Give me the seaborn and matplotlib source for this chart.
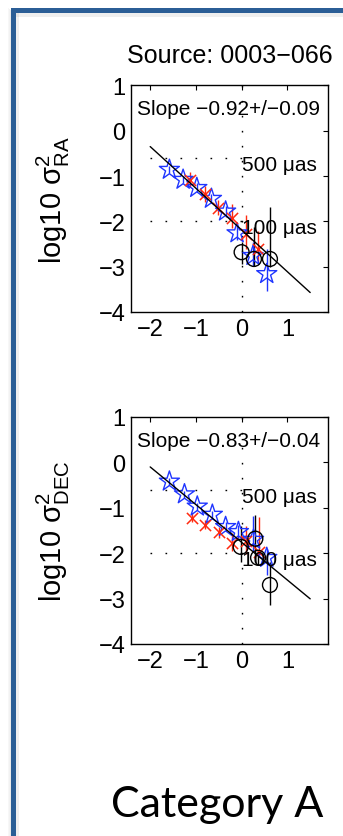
import numpy as np
import matplotlib
matplotlib.use("Agg")
import matplotlib.pyplot as plt
import seaborn as sns
from matplotlib.patches import Rectangle

# ---------------- data ----------------
title_text = "Source: 0003\u2212066"
category_text = "Category A"
x_ticks = [-2, -1, 0, 1]
y_ticks = [-4, -3, -2, -1, 0, 1]
ref_levels = [-0.6, -2.0]
ref_labels = ["500 \u03bcas", "100 \u03bcas"]
fit_x = [-2.0, 1.5]

# RA panel
ra_blue_x = [-1.58, -1.28, -0.98, -0.66, -0.35, -0.10, 0.25, 0.55]
ra_blue_y = [-0.86, -1.08, -1.26, -1.50, -1.78, -2.26, -2.76, -3.16]
ra_blue_lo = [-0.94, -1.16, -1.36, -1.60, -1.90, -2.42, -2.99, -3.53]
ra_blue_hi = [-0.78, -1.00, -1.16, -1.40, -1.66, -2.10, -2.46, -2.60]
ra_red_x = [-1.13, -0.80, -0.51, -0.20, 0.09, 0.35]
ra_red_y = [-1.08, -1.40, -1.70, -1.92, -2.28, -2.60]
ra_red_lo = [-1.25, -1.57, -1.87, -2.15, -2.62, -2.90]
ra_red_hi = [-0.91, -1.23, -1.53, -1.62, -1.85, -2.22]
ra_black_x = [0.00, 0.27, 0.62]
ra_black_y = [-2.68, -2.83, -2.83]
ra_black_lo = [-2.94, -2.98, -3.00]
ra_black_hi = [-2.46, -2.13, -1.69]
ra_slope, ra_intercept = -0.92, -2.19
ra_slope_text = "Slope \u22120.92+/\u22120.09"
ra_ylabel = r"log10 $\sigma^2_{RA}$"

# DEC panel
dec_blue_x = [-1.58, -1.25, -0.97, -0.64, -0.35, -0.07, 0.26, 0.55]
dec_blue_y = [-0.42, -0.70, -0.97, -1.15, -1.42, -1.53, -1.70, -2.10]
dec_blue_lo = [-0.50, -0.78, -1.05, -1.24, -1.52, -1.68, -1.97, -2.49]
dec_blue_hi = [-0.34, -0.62, -0.89, -1.06, -1.32, -1.38, -1.17, -1.90]
dec_red_x = [-1.09, -0.80, -0.49, -0.20, 0.10, 0.38]
dec_red_y = [-1.22, -1.37, -1.54, -1.78, -1.74, -1.97]
dec_red_lo = [-1.32, -1.47, -1.66, -1.95, -2.02, -2.05]
dec_red_hi = [-1.12, -1.27, -1.42, -1.55, -1.39, -1.20]
dec_black_x = [-0.02, 0.30, 0.36, 0.62]
dec_black_y = [-1.86, -1.68, -2.10, -2.70]
dec_black_lo = [-2.20, -2.20, -2.25, -3.14]
dec_black_hi = [-1.40, -1.15, -1.95, -2.19]
dec_slope, dec_intercept = -0.83, -1.76
dec_slope_text = "Slope \u22120.83+/\u22120.04"
dec_ylabel = r"log10 $\sigma^2_{DEC}$"

# ---------------- style ----------------
sns.set_style("white")
plt.rcParams["font.family"] = ["Liberation Sans", "DejaVu Sans"]
plt.rcParams["mathtext.default"] = "regular"
plt.rcParams["axes.unicode_minus"] = True
plt.rcParams["text.color"] = "black"
plt.rcParams["axes.labelcolor"] = "black"
plt.rcParams["xtick.color"] = "black"
plt.rcParams["ytick.color"] = "black"

BLUE = "#1f35ff"
RED = "#ff2a10"
BLACK = "black"

W, H = 343, 837
fig = plt.figure(figsize=(W / 100, H / 100), dpi=100)
fig.patch.set_facecolor("white")

def px_rect(l, t, r, b):
    return [l / W, 1 - b / H, (r - l) / W, (b - t) / H]

# slide frame with soft shadow
for i, a in enumerate([0.06, 0.10, 0.16]):
    fig.patches.append(Rectangle(((8 + i) / W, 0), 1 / W, 1 - (9 + i) / H,
                                 transform=fig.transFigure, color="gray", alpha=a, lw=0))
fig.patches.append(Rectangle((16 / W, 0), 3 / W, 1 - 14 / H, transform=fig.transFigure,
                             color="gray", alpha=0.12, lw=0))
fig.patches.append(Rectangle((16 / W, 1 - 18 / H), 1 - 16 / W, 4 / H, transform=fig.transFigure,
                             color="gray", alpha=0.12, lw=0))
fig.patches.append(Rectangle((11 / W, 0), 5 / W, 1 - 9 / H, transform=fig.transFigure,
                             color="#2b5e96", lw=0))
fig.patches.append(Rectangle((11 / W, 1 - 14 / H), 1 - 11 / W, 5 / H, transform=fig.transFigure,
                             color="#2b5e96", lw=0))

panels = [
    dict(rect=px_rect(131, 86.4, 328, 313),
         blue=(ra_blue_x, ra_blue_y, ra_blue_lo, ra_blue_hi),
         red=(ra_red_x, ra_red_y, ra_red_lo, ra_red_hi),
         black=(ra_black_x, ra_black_y, ra_black_lo, ra_black_hi),
         slope=ra_slope, intercept=ra_intercept, stext=ra_slope_text,
         ylabel=ra_ylabel, title=title_text),
    dict(rect=px_rect(131, 418, 328, 645),
         blue=(dec_blue_x, dec_blue_y, dec_blue_lo, dec_blue_hi),
         red=(dec_red_x, dec_red_y, dec_red_lo, dec_red_hi),
         black=(dec_black_x, dec_black_y, dec_black_lo, dec_black_hi),
         slope=dec_slope, intercept=dec_intercept, stext=dec_slope_text,
         ylabel=dec_ylabel, title=None),
]

dots = (0, (1.2, 9.6))

for p in panels:
    ax = fig.add_axes(p["rect"])
    ax.set_facecolor("white")
    ax.set_xlim(-2.42, 1.89)
    ax.set_ylim(-4, 1)

    # reference dotted lines
    ax.axvline(0, color="black", lw=1.0, ls=dots, zorder=1)
    for lev, lab in zip(ref_levels, ref_labels):
        ax.plot([-2, 0], [lev, lev], color="black", lw=1.0, ls=dots, zorder=1)
        ax.text(0.01, lev - 0.145, lab, fontsize=15, va="center", ha="left", zorder=6)

    # error bars
    for key, col in (("blue", BLUE), ("red", RED), ("black", BLACK)):
        x, y, lo, hi = (np.asarray(v) for v in p[key])
        ax.errorbar(x, y, yerr=[y - lo, hi - y], fmt="none", ecolor=col,
                    elinewidth=1.0, capsize=0, zorder=2)

    bx, by, _, _ = p["blue"]
    rx, ry, _, _ = p["red"]
    kx, ky, _, _ = p["black"]
    sns.scatterplot(x=bx, y=by, marker="*", s=230, facecolors="none",
                    edgecolor=BLUE, linewidth=1.0, ax=ax, zorder=3)
    sns.scatterplot(x=rx, y=ry, marker="x", s=65, color=RED,
                    linewidth=1.1, ax=ax, zorder=3)
    sns.scatterplot(x=kx, y=ky, marker="o", s=115, facecolors="none",
                    edgecolor=BLACK, linewidth=1.0, ax=ax, zorder=4)

    # fitted line
    fx = np.asarray(fit_x)
    ax.plot(fx, p["slope"] * fx + p["intercept"], color="black", lw=1.0, zorder=5)

    ax.text(0.03, 0.896, p["stext"], transform=ax.transAxes, fontsize=15,
            va="center", ha="left")

    ax.set_xticks(x_ticks)
    ax.set_yticks(y_ticks)
    ax.tick_params(direction="in", top=True, right=True, length=3.5, width=0.8,
                   labelsize=17, pad=4, colors="black")
    for s in ax.spines.values():
        s.set_color("black")
        s.set_linewidth(1.0)
    ax.set_xlabel("")
    ax.set_ylabel(p["ylabel"], fontsize=21, color="black")
    ax.yaxis.set_label_coords(-0.30, 0.5)
    if p["title"]:
        ax.set_title(p["title"], fontsize=18, pad=17, color="black")

fig.text(217.5 / W, 1 - 816.7 / H, category_text, fontsize=31, family=["Lato", "DejaVu Sans"],
         ha="center", va="baseline", color="black")

fig.savefig("out.png", dpi=100, facecolor="white")
